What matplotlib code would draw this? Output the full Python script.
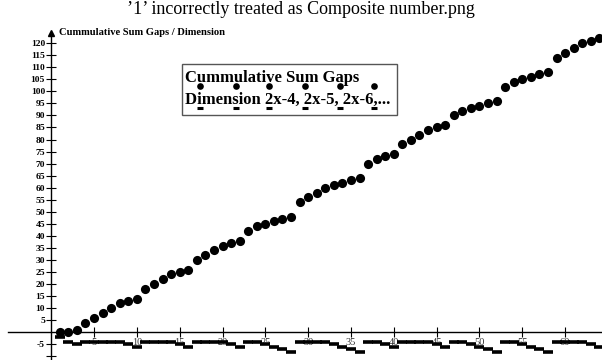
import matplotlib
matplotlib.use("Agg")
import matplotlib.pyplot as plt
from matplotlib.patches import Rectangle

# data
n = list(range(1, 65))
gap_sum = [0, 0, 1, 4, 6, 8, 10, 12, 13, 14, 18, 20, 22, 24, 25, 26,
           30, 32, 34, 36, 37, 38, 42, 44, 45, 46, 47, 48, 54, 56, 58, 60,
           61, 62, 63, 64, 70, 72, 73, 74, 78, 80, 82, 84, 85, 86, 90, 92,
           93, 94, 95, 96, 102, 104, 105, 106, 107, 108, 114, 116, 118, 120,
           121, 122]
dimension = [-2, -4, -5, -4, -4, -4, -4, -4, -5, -6, -4, -4, -4, -4, -5, -6,
             -4, -4, -4, -4, -5, -6, -4, -4, -5, -6, -7, -8, -4, -4, -4, -4,
             -5, -6, -7, -8, -4, -4, -5, -6, -4, -4, -4, -4, -5, -6, -4, -4,
             -5, -6, -7, -8, -4, -4, -5, -6, -7, -8, -4, -4, -4, -4, -5, -6]
xticks = list(range(5, 65, 5))
yticks = [-5] + list(range(5, 125, 5))

title = "\u20191\u2019 incorrectly treated as Composite number.png"
ylabel = "Cummulative Sum Gaps / Dimension"
legend_lines = ["Cummulative Sum Gaps", "Dimension 2x-4, 2x-5, 2x-6,..."]

serif = ["Liberation Serif", "DejaVu Serif"]
W, H = 602, 360

fig = plt.figure(figsize=(W / 100, H / 100), dpi=100)
ax = fig.add_axes([0, 0, 1, 1])
ax.set_xlim(-5.98, 64.31)
ax.set_ylim(-11.5, 137.9)
ax.patch.set_alpha(0)

for s in ["top", "right"]:
    ax.spines[s].set_visible(False)
ax.spines["left"].set_position(("data", 0))
ax.spines["bottom"].set_position(("data", 0))
ax.spines["left"].set_bounds(-12, 124)
ax.spines["bottom"].set_bounds(-5.04, 64.31)
for s in ["left", "bottom"]:
    ax.spines[s].set_linewidth(1.0)
    ax.spines[s].set_color("black")

# arrow on the y axis
ax.plot([0], [124], marker="^", color="black", markersize=5, clip_on=False)

ax.set_xticks(xticks)
ax.set_xticklabels([str(t) for t in xticks], family=serif, fontsize=7.5,
                   color="#333333")
ax.set_yticks(yticks + [-10])
ax.set_yticklabels([str(t) for t in yticks] + [""], family=serif,
                   fontsize=6.8, fontweight="bold")
ax.tick_params(axis="x", direction="inout", length=7, width=0.8, pad=0.5)
ax.tick_params(axis="y", direction="inout", length=7, width=0.8, pad=1)

ax.plot(n, gap_sum, linestyle="none", marker="o", markersize=6.6,
        markeredgewidth=0, color="black")
ax.plot(n, dimension, linestyle="none", marker="_", markersize=7.2,
        markeredgewidth=2.6, color="black")

ax.text(0.95, 124.5, ylabel, family=serif, fontsize=7.6, fontweight="bold",
        ha="left", va="center")

fig.text(0.5, 1 - 10 / H, title, family=serif, fontsize=13,
         ha="center", va="center")

# legend box
fig.patches.append(Rectangle((182 / W, 1 - 115 / H), 215 / W, 51 / H,
                             transform=fig.transFigure, fill=False,
                             edgecolor="#555555", linewidth=1.0))
fig.text(185 / W, 1 - 78 / H, legend_lines[0], family=serif, fontsize=12,
         fontweight="bold", ha="left", va="center")
fig.text(185 / W, 1 - 99.5 / H, legend_lines[1], family=serif, fontsize=12,
         fontweight="bold", ha="left", va="center")
sample_x = [200, 235.7, 269, 305, 340, 374.3]
for sx in sample_x:
    fig.lines.append(plt.Line2D([sx / W], [1 - 85.7 / H], marker="o",
                                markersize=4.8, markeredgewidth=0,
                                color="black", transform=fig.transFigure))
    fig.lines.append(plt.Line2D([sx / W], [1 - 108.3 / H], marker="_",
                                markersize=5, markeredgewidth=2.2,
                                color="black", transform=fig.transFigure))

fig.savefig("out.png", dpi=100)
